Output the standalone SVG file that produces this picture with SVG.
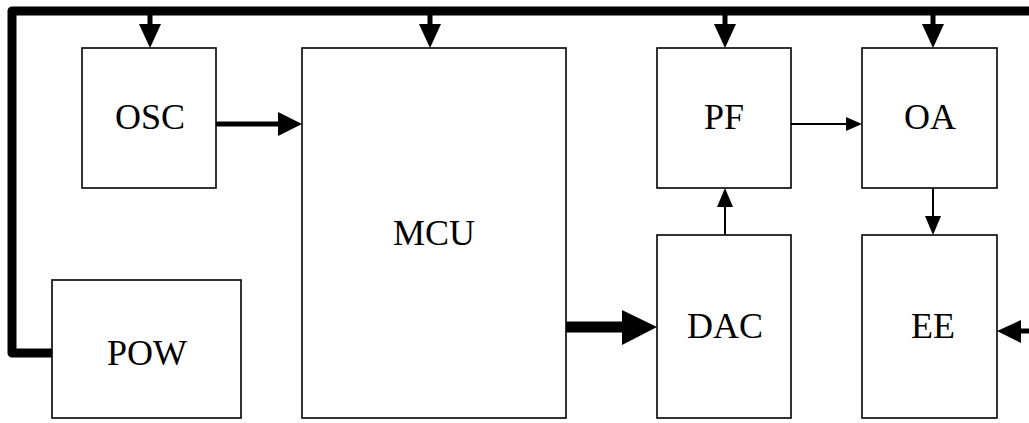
<svg xmlns="http://www.w3.org/2000/svg" width="1029" height="423" viewBox="0 0 1029 423">
<style>
.box{fill:#fff;stroke:#000;stroke-width:1.6}
.lbl{font-family:"Liberation Serif","Times New Roman",serif;font-size:36px;text-anchor:middle;fill:#000}
.bus{fill:none;stroke:#000;stroke-width:9;stroke-linejoin:round;stroke-linecap:round}
.thick{stroke:#000;stroke-width:5;fill:none}
.thin{stroke:#000;stroke-width:2;fill:none}
.head{fill:#000}
</style>
<g id="connectors">
<path class="bus" d="M1029,11 H12 V353 H52"/>
<line class="thick" x1="150" y1="11" x2="150" y2="26"/><polygon class="head" points="139,24 161,24 150,48"/>
<line class="thick" x1="430" y1="11" x2="430" y2="26"/><polygon class="head" points="419,24 441,24 430,48"/>
<line class="thick" x1="725" y1="11" x2="725" y2="26"/><polygon class="head" points="714,24 736,24 725,48"/>
<line class="thick" x1="933" y1="11" x2="933" y2="26"/><polygon class="head" points="922,24 944,24 933,48"/>
<line class="thick" x1="218" y1="124" x2="280" y2="124" stroke-linecap="round"/><polygon class="head" points="278,112 302,124 278,136"/>
<line x1="566" y1="327" x2="625" y2="327" stroke="#000" stroke-width="11"/><polygon class="head" points="622,310 657,327 622,345"/>
<line class="thick" x1="1029" y1="331" x2="1019" y2="331"/><polygon class="head" points="1021,320 997,331 1021,343"/>
<line class="thin" x1="791" y1="124" x2="848" y2="124"/><polygon class="head" points="846,117 862,124 846,131"/>
<line class="thin" x1="725" y1="235" x2="725" y2="205"/><polygon class="head" points="717,207 725,188 733,207"/>
<line class="thin" x1="933" y1="188" x2="933" y2="218"/><polygon class="head" points="925,216 941,216 933,235"/>
</g>
<g id="OSC"><rect class="box" x="82" y="48" width="134" height="140"/><text class="lbl" x="150" y="129">OSC</text></g>
<g id="MCU"><rect class="box" x="302" y="48" width="264" height="370"/><text class="lbl" x="434" y="245">MCU</text></g>
<g id="PF"><rect class="box" x="657" y="48" width="134" height="140"/><text class="lbl" x="724" y="129">PF</text></g>
<g id="OA"><rect class="box" x="862" y="48" width="135" height="140"/><text class="lbl" x="930" y="129">OA</text></g>
<g id="DAC"><rect class="box" x="657" y="235" width="134" height="183"/><text class="lbl" x="725" y="338">DAC</text></g>
<g id="EE"><rect class="box" x="862" y="235" width="135" height="183"/><text class="lbl" x="933" y="338">EE</text></g>
<g id="POW"><rect class="box" x="52" y="280" width="189" height="138"/><text class="lbl" x="147" y="365">POW</text></g>
</svg>
